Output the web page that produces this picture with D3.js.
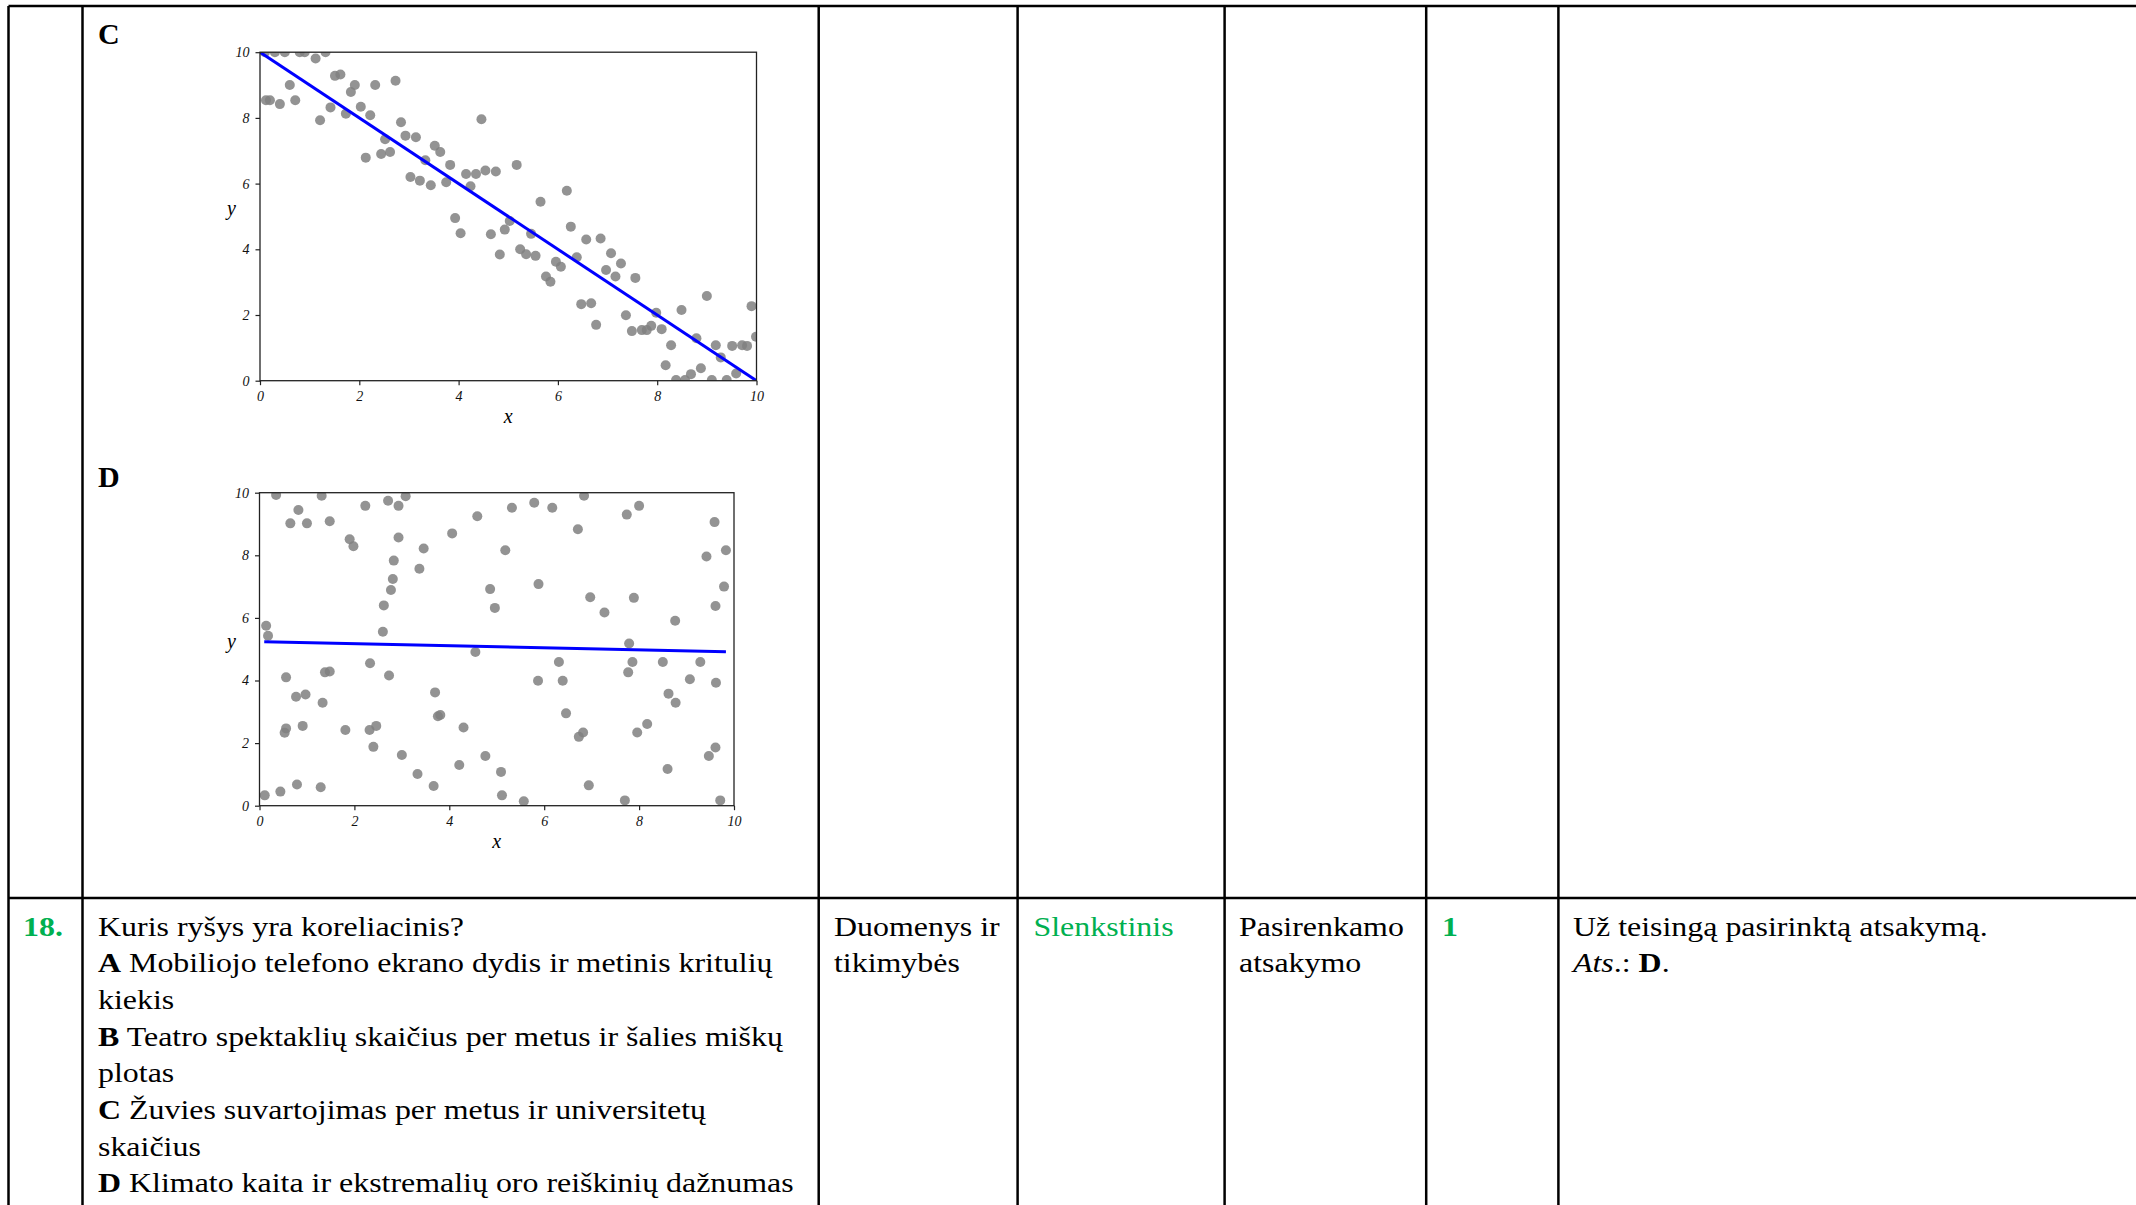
<!DOCTYPE html>
<html>
<head>
<meta charset="utf-8">
<script src="https://cdn.jsdelivr.net/npm/d3@7/dist/d3.min.js"></script>
<style>
body { margin: 0; background: #fff; }
svg { display: block; font-family: "Liberation Serif", "Times New Roman", serif; }
</style>
</head>
<body>
<div id="chart"></div>
<script>
// ---- data ----
const axisTicks = [0, 2, 4, 6, 8, 10];

// panel C: strong negative relation
const pointsC = [
    [0.1, 10], [0.3, 10], [0.5, 10], [0.8, 10], [0.9, 10], [1.12, 9.81], [1.32, 10],
    [0.12, 8.54], [0.2, 8.54], [0.4, 8.42], [0.6, 9.0], [0.71, 8.54],
    [1.21, 7.93], [1.42, 8.32], [1.51, 9.28], [1.62, 9.32], [1.73, 8.13], [1.83, 8.79],
    [1.91, 9.0], [2.03, 8.34], [2.22, 8.08], [2.32, 9.0], [2.13, 6.79], [2.44, 6.9],
    [2.52, 7.35], [2.62, 6.96], [2.73, 9.13], [2.84, 7.87], [2.93, 7.46], [3.14, 7.41],
    [3.03, 6.2], [3.22, 6.09], [3.33, 6.71], [3.44, 5.95], [3.52, 7.15], [3.63, 6.96],
    [3.75, 6.04], [3.83, 6.57], [4.15, 6.29], [4.35, 6.29], [4.24, 5.92], [4.46, 7.96],
    [4.54, 6.4], [4.75, 6.37], [3.93, 4.95], [4.04, 4.49], [4.65, 4.46], [4.83, 3.84],
    [4.93, 4.6], [5.03, 4.86], [5.17, 6.57], [5.65, 5.45], [6.18, 5.78], [6.26, 4.69],
    [5.24, 4.0], [5.36, 3.85], [5.55, 3.8], [5.46, 4.47], [5.76, 3.17], [5.85, 3.01],
    [5.96, 3.62], [6.06, 3.47], [6.38, 3.76], [6.57, 4.3], [6.86, 4.33], [6.47, 2.33],
    [6.67, 2.36], [6.77, 1.7], [7.07, 3.88], [6.97, 3.37], [7.16, 3.17], [7.27, 3.57],
    [7.56, 3.13], [7.37, 1.99], [7.49, 1.51], [7.69, 1.54], [7.79, 1.54], [7.88, 1.67],
    [7.98, 2.07], [8.09, 1.57], [8.17, 0.47], [8.28, 1.08], [8.49, 2.15], [9.0, 2.58],
    [8.38, 0.02], [8.56, 0.02], [8.68, 0.2], [8.88, 0.38], [8.79, 1.29], [9.1, 0.02],
    [9.18, 1.08], [9.28, 0.71], [9.4, 0.02], [9.51, 1.06], [9.59, 0.22], [9.71, 1.08],
    [9.81, 1.06], [9.9, 2.27], [9.99, 1.34]
];
const fitC = [10, -1];          // intercept, slope
const fitRangeC = [0, 10];

// panel D: no relation
const pointsD = [
    [0.35, 9.93], [0.65, 9.02], [0.82, 9.45], [1.0, 9.02], [1.31, 9.9], [1.48, 9.09],
    [1.9, 8.51], [1.98, 8.29], [2.23, 9.58], [2.71, 9.74], [2.93, 9.58], [3.08, 9.89],
    [2.93, 8.57], [2.83, 7.83], [2.81, 7.24], [2.77, 6.89], [2.62, 6.4], [2.6, 5.56],
    [3.37, 7.57], [3.46, 8.22], [4.06, 8.7], [4.59, 9.25], [5.18, 8.16], [4.86, 6.92],
    [4.96, 6.32], [4.55, 4.91], [0.14, 5.75], [0.18, 5.43], [2.33, 4.55],
    [5.32, 9.52], [5.79, 9.68], [6.17, 9.52], [6.84, 9.9], [6.71, 8.83], [7.74, 9.3],
    [8.0, 9.58], [9.59, 9.06], [9.42, 7.96], [9.83, 8.16], [5.88, 7.08], [6.97, 6.66],
    [7.27, 6.17], [7.89, 6.64], [8.76, 5.91], [9.79, 7.0], [9.61, 6.38], [7.79, 5.18],
    [6.31, 4.59], [7.86, 4.59], [8.5, 4.59], [9.29, 4.59],
    [0.56, 4.1], [1.38, 4.26], [1.48, 4.29], [2.73, 4.16], [0.77, 3.48], [0.97, 3.55],
    [1.33, 3.29], [0.56, 2.47], [0.53, 2.33], [0.91, 2.55], [1.81, 2.42], [2.32, 2.42],
    [2.46, 2.55], [2.4, 1.88], [3.7, 3.62], [3.76, 2.86], [3.81, 2.9], [4.3, 2.5],
    [3.0, 1.62], [3.33, 1.01], [3.67, 0.63], [4.21, 1.3], [4.76, 1.59], [5.09, 1.08],
    [5.11, 0.33], [0.11, 0.33], [0.44, 0.45], [0.79, 0.68], [1.29, 0.59],
    [7.77, 4.26], [5.87, 3.99], [6.39, 3.99], [9.07, 4.04], [9.62, 3.93], [8.62, 3.58],
    [8.77, 3.29], [6.46, 2.95], [6.82, 2.34], [6.73, 2.2], [7.96, 2.34], [8.17, 2.61],
    [9.61, 1.86], [9.47, 1.59], [8.6, 1.17], [6.94, 0.65], [5.57, 0.14], [7.7, 0.17],
    [9.71, 0.17]
];
const fitD = [5.243, -0.033];
const fitRangeD = [0.1, 9.83];

// table texts
const questionNo = "18.";
const questionLines = [
    ["", "Kuris ryšys yra koreliacinis?"],
    ["A", " Mobiliojo telefono ekrano dydis ir metinis kritulių"],
    ["", "kiekis"],
    ["B", " Teatro spektaklių skaičius per metus ir šalies miškų"],
    ["", "plotas"],
    ["C", " Žuvies suvartojimas per metus ir universitetų"],
    ["", "skaičius"],
    ["D", " Klimato kaita ir ekstremalių oro reiškinių dažnumas"]
];
const topicLines = ["Duomenys ir", "tikimybės"];
const levelLines = ["Slenkstinis"];
const typeLines = ["Pasirenkamo", "atsakymo"];
const scoreText = "1";
const criteriaLine = "Už teisingą pasirinktą atsakymą.";

// ---- layout ----
const W = 2136, H = 1205;
const green = "#00b050";
const colX = [8.5, 82.5, 818.7, 1017.6, 1224.6, 1426.2, 1558.4];
const rowY = [6, 898];
const lineH = 36.7;
const firstBase = 935.5;
const stretch = 1.14;   // table text in the picture is a bit wider than the font

const svg = d3.select("#chart").append("svg")
    .attr("width", W)
    .attr("height", H);

svg.append("rect").attr("width", W).attr("height", H).attr("fill", "#fff");

// table grid
const grid = svg.append("g").attr("stroke", "#000").attr("stroke-width", 2.5);
rowY.forEach(y => {
    grid.append("line").attr("x1", colX[0]).attr("x2", W).attr("y1", y).attr("y2", y);
});
colX.forEach(x => {
    grid.append("line").attr("x1", x).attr("x2", x).attr("y1", rowY[0]).attr("y2", H);
});

// panel letters
svg.append("text").attr("x", 98).attr("y", 44).attr("font-size", 30)
    .attr("font-weight", "bold").text("C");
svg.append("text").attr("x", 98).attr("y", 487).attr("font-size", 30)
    .attr("font-weight", "bold").text("D");

function drawPlot(id, points, fit, fitRange, xRange, yRange) {
    const x = d3.scaleLinear().domain([0, 10]).range(xRange);
    const y = d3.scaleLinear().domain([0, 10]).range(yRange);
    const g = svg.append("g");

    g.append("clipPath").attr("id", "clip" + id)
        .append("rect")
        .attr("x", xRange[0]).attr("y", yRange[1])
        .attr("width", xRange[1] - xRange[0])
        .attr("height", yRange[0] - yRange[1]);

    g.append("g")
        .attr("clip-path", `url(#clip${id})`)
        .selectAll("circle")
        .data(points)
        .enter().append("circle")
        .attr("cx", d => x(d[0]))
        .attr("cy", d => y(d[1]))
        .attr("r", 5)
        .attr("fill", "#808080")
        .attr("fill-opacity", 0.85);

    const line = d3.line().x(d => x(d)).y(d => y(fit[0] + fit[1] * d));
    g.append("path")
        .attr("clip-path", `url(#clip${id})`)
        .attr("d", line(fitRange))
        .attr("fill", "none")
        .attr("stroke", "#0000ff")
        .attr("stroke-width", 3);

    const xAxis = g.append("g")
        .attr("transform", `translate(0,${yRange[0]})`)
        .call(d3.axisBottom(x).tickValues(axisTicks).tickSize(4.5).tickPadding(5.5).tickSizeOuter(0));
    const yAxis = g.append("g")
        .attr("transform", `translate(${xRange[0]},0)`)
        .call(d3.axisLeft(y).tickValues(axisTicks).tickSize(4.5).tickPadding(6).tickSizeOuter(0));

    [xAxis, yAxis].forEach(a => {
        a.select(".domain").remove();
        a.selectAll("line").attr("stroke", "#222").attr("stroke-width", 1.2);
        a.selectAll("text")
            .attr("font-family", "Liberation Serif, Times New Roman, serif")
            .attr("font-style", "italic")
            .attr("font-size", 14)
            .attr("fill", "#111");
    });

    g.append("rect")
        .attr("x", xRange[0]).attr("y", yRange[1])
        .attr("width", xRange[1] - xRange[0])
        .attr("height", yRange[0] - yRange[1])
        .attr("fill", "none")
        .attr("stroke", "#222")
        .attr("stroke-width", 1.3);

    g.append("text")
        .attr("x", (xRange[0] + xRange[1]) / 2)
        .attr("y", yRange[0] + 42)
        .attr("text-anchor", "middle")
        .attr("font-style", "italic")
        .attr("font-size", 20)
        .text("x");
    g.append("text")
        .attr("x", 236)
        .attr("y", (yRange[0] + yRange[1]) / 2 - 1)
        .attr("text-anchor", "end")
        .attr("font-style", "italic")
        .attr("font-size", 20)
        .text("y");
}

drawPlot("C", pointsC, fitC, fitRangeC, [260, 756.5], [380.7, 52.2]);
drawPlot("D", pointsD, fitD, fitRangeD, [259.5, 734], [805.7, 492.7]);

// bottom row texts
const body = svg.append("g").attr("font-size", 28).attr("fill", "#000");

function cellText(x, y) {
    return body.append("text")
        .attr("transform", `translate(${x},${y}) scale(${stretch},1)`);
}

cellText(23, firstBase).attr("font-weight", "bold").attr("fill", green).text(questionNo);

questionLines.forEach((l, i) => {
    const t = cellText(98, firstBase + i * lineH);
    if (l[0]) t.append("tspan").attr("font-weight", "bold").text(l[0]);
    t.append("tspan").text(l[1]);
});

topicLines.forEach((s, i) => cellText(834, firstBase + i * lineH).text(s));
levelLines.forEach((s, i) => cellText(1033.5, firstBase + i * lineH).attr("fill", green).text(s));
typeLines.forEach((s, i) => cellText(1239, firstBase + i * lineH).text(s));
cellText(1442, firstBase).attr("font-weight", "bold").attr("fill", green).text(scoreText);

cellText(1573, firstBase).text(criteriaLine);
const ans = cellText(1573, firstBase + lineH);
ans.append("tspan").attr("font-style", "italic").text("Ats");
ans.append("tspan").text(".: ");
ans.append("tspan").attr("font-weight", "bold").text("D");
ans.append("tspan").text(".");
</script>
</body>
</html>
